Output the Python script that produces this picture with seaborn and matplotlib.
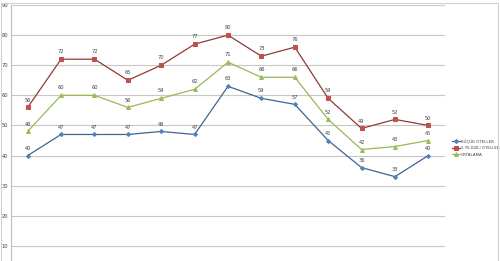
import matplotlib
matplotlib.use("Agg")
import matplotlib.pyplot as plt
import seaborn as sns
import pandas as pd
from matplotlib.patches import Rectangle

sns.set_style("white")
plt.rcParams['font.family'] = ['DejaVu Sans']

months = list(range(1, 14))
kucuk = [40, 47, 47, 47, 48, 47, 63, 59, 57, 45, 36, 33, 40]
bes_yildiz = [56, 72, 72, 65, 70, 77, 80, 73, 76, 59, 49, 52, 50]
ortalama = [48, 60, 60, 56, 59, 62, 71, 66, 66, 52, 42, 43, 45]
series_names = ["KÜÇÜK OTELLER", "5 YILDIZLI OTELLER", "ORTALAMA"]
yticks = [10, 20, 30, 40, 50, 60, 70, 80, 90]

line_colors = ["#3D6592", "#953735", "#98B954"]
marker_colors = ["#4F81BD", "#C0504D", "#9BBB59"]
markers = ["D", "s", "^"]
msizes = [2.0, 3.2, 2.8]

df = pd.DataFrame({
    "x": list(range(13)) * 3,
    "y": kucuk + bes_yildiz + ortalama,
    "seri": [series_names[0]] * 13 + [series_names[1]] * 13 + [series_names[2]] * 13,
})

fig = plt.figure(figsize=(5.0, 2.61), dpi=100)
W, H = 500, 261
ax = fig.add_axes([11 / W, (H - 276) / H, 434 / W, 271 / H])

for i, name in enumerate(series_names):
    sub = df[df["seri"] == name]
    sns.lineplot(data=sub, x="x", y="y", ax=ax, color=line_colors[i], lw=0.9,
                 marker=markers[i], markersize=msizes[i], markerfacecolor=marker_colors[i],
                 markeredgecolor=marker_colors[i], label=name, sort=False)
    for xv, yv in zip(sub["x"], sub["y"]):
        ax.annotate(str(yv), (xv, yv), xytext=(0, 3.5), textcoords="offset points",
                    ha="center", va="bottom", fontsize=3.7, color="#404040")

ax.set_xlim(-0.5, 12.5)
ax.set_ylim(0, 90)
ax.set_yticks(yticks)
ax.set_yticklabels([str(t) for t in yticks], fontsize=3.7, color="#404040")
ax.set_xticks([])
ax.set_xlabel("")
ax.set_ylabel("")
ax.tick_params(axis="y", length=0, pad=2)
ax.grid(axis="y", color="#C8C8C8", lw=0.8)
ax.set_axisbelow(True)
for s in ["top", "right", "bottom"]:
    ax.spines[s].set_visible(False)
ax.spines["left"].set_color("#BEBEBE")
ax.spines["left"].set_linewidth(0.8)

leg = ax.legend(loc="upper left", bbox_to_anchor=(450 / W, (H - 137) / H),
                bbox_transform=fig.transFigure, frameon=False, fontsize=2.9,
                handlelength=2.0, handletextpad=0.2, labelspacing=0.6, borderpad=0)
for t in leg.get_texts():
    t.set_color("#404040")

fig.patches.append(Rectangle((1 / W, -0.1), 497 / W, 1.1 - 3 / H, transform=fig.transFigure,
                             fill=False, edgecolor="#D0D0D0", lw=0.8))

fig.savefig("out.png", dpi=100)
